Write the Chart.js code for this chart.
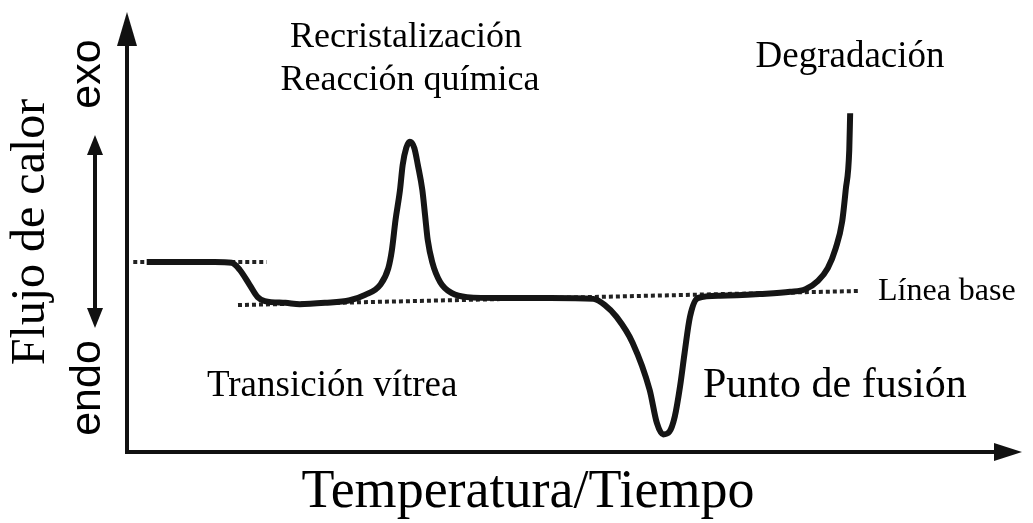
<!DOCTYPE html>
<html>
<head>
<meta charset="utf-8">
<script src="https://cdn.jsdelivr.net/npm/chart.js@4"></script>
<style>
  html, body { margin: 0; padding: 0; background: #fff; }
  canvas { display: block; }
</style>
</head>
<body>
<canvas id="dsc" width="1033" height="523"></canvas>
<script>
// Curva DSC esquemática (unidades arbitrarias)
var temperatura = [2.2, 5.9, 9.8, 11.7, 12.6, 13.7, 14.6, 15.4, 17.7, 19.3, 22.1, 24.9,
    26.6, 28.3, 29.2, 29.6, 30.0, 30.5, 30.8, 31.2, 31.6, 32.1, 32.5, 33.0, 33.3, 33.6, 34.1,
    35.0, 36.3, 38.0, 41.7, 47.3, 52.1, 53.4, 54.7, 56.5, 58.4, 59.2, 59.9, 60.6, 61.2, 61.8, 62.3,
    62.9, 63.8, 66.3, 70.7, 74.1, 75.8, 77.2, 78.3, 79.2, 79.9, 80.3, 80.7, 80.8];
var flujoCalor = [43.2, 43.2, 43.2, 43.0, 41.4, 38.0, 35.2, 34.3, 33.9, 33.6, 33.9, 34.5,
    35.7, 38.0, 41.8, 45.9, 52.7, 59.5, 65.2, 69.1, 70.5, 69.1, 65.2, 59.5, 53.9, 48.2, 43.2,
    38.6, 36.1, 35.2, 35.0, 35.0, 34.8, 33.4, 30.7, 24.8, 14.1, 6.6, 4.0, 4.6, 8.0, 15.0, 22.5,
    30.7, 35.0, 35.5, 35.9, 36.4, 37.0, 38.9, 41.8, 46.4, 52.3, 59.5, 68.6, 77.0];

// líneas base punteadas
var baseVitreaX = [0.7, 15.6];
var baseVitreaY = [43.2, 43.2];
var lineaBaseX = [12.4, 81.9];
var lineaBaseY = [33.4, 36.6];

function toPoints(xs, ys) {
    return xs.map(function (x, i) { return { x: x, y: ys[i] }; });
}

function arrowHead(ctx, tipX, tipY, dir, len, half) {
    // dir: 'up', 'down', 'right'
    ctx.beginPath();
    ctx.moveTo(tipX, tipY);
    if (dir === 'up') {
        ctx.lineTo(tipX - half, tipY + len);
        ctx.lineTo(tipX + half, tipY + len);
    } else if (dir === 'down') {
        ctx.lineTo(tipX - half, tipY - len);
        ctx.lineTo(tipX + half, tipY - len);
    } else {
        ctx.lineTo(tipX - len, tipY - half);
        ctx.lineTo(tipX - len, tipY + half);
    }
    ctx.closePath();
    ctx.fill();
}

function rotText(ctx, txt, x, y) {
    ctx.save();
    ctx.translate(x, y);
    ctx.rotate(-Math.PI / 2);
    ctx.fillText(txt, 0, 0);
    ctx.restore();
}

var schemePlugin = {
    id: 'scheme',
    afterDraw: function (chart) {
        var ctx = chart.ctx;
        var xs = chart.scales.x, ys = chart.scales.y;
        var x0 = xs.getPixelForValue(xs.min), x1 = xs.getPixelForValue(xs.max);
        var y0 = ys.getPixelForValue(ys.min), y1 = ys.getPixelForValue(ys.max);
        ctx.save();
        ctx.strokeStyle = '#111';
        ctx.fillStyle = '#111';
        ctx.lineWidth = 4;
        ctx.lineCap = 'butt';

        // ejes
        ctx.beginPath();
        ctx.moveTo(x0, y0 + 2);
        ctx.lineTo(x0, y1 + 20);
        ctx.moveTo(x0 - 2, y0);
        ctx.lineTo(x1 - 20, y0);
        ctx.stroke();
        arrowHead(ctx, x0, y1, 'up', 34, 10);
        arrowHead(ctx, x1, y0, 'right', 28, 9);

        // flecha exo / endo
        ctx.beginPath();
        ctx.moveTo(95, 150);
        ctx.lineTo(95, 312);
        ctx.stroke();
        arrowHead(ctx, 95, 135, 'up', 20, 8);
        arrowHead(ctx, 95, 328, 'down', 20, 8);

        // textos
        ctx.fillStyle = '#000';
        ctx.textBaseline = 'alphabetic';
        ctx.textAlign = 'center';
        ctx.font = '36px "Liberation Serif", serif';
        ctx.fillText('Recristalización', 406, 47);
        ctx.fillText('Reacción química', 410, 90);
        ctx.font = '37px "Liberation Serif", serif';
        ctx.fillText('Degradación', 850, 67);
        ctx.font = '54px "Liberation Serif", serif';
        ctx.fillText('Temperatura/Tiempo', 528, 507);
        ctx.font = '48px "Liberation Serif", serif';
        rotText(ctx, 'Flujo de calor', 44, 232);

        ctx.textAlign = 'left';
        ctx.font = '37px "Liberation Serif", serif';
        ctx.fillText('Transición vítrea', 207, 396);
        ctx.font = '42px "Liberation Serif", serif';
        ctx.fillText('Punto de fusión', 703, 397);
        ctx.font = '32px "Liberation Serif", serif';
        ctx.fillText('Línea base', 878, 300);

        ctx.textAlign = 'center';
        ctx.font = '43px "Liberation Sans", sans-serif';
        rotText(ctx, 'exo', 100, 74);
        rotText(ctx, 'endo', 100, 388);
        ctx.restore();
    }
};

var ctx = document.getElementById('dsc').getContext('2d');
var chart = new Chart(ctx, {
    type: 'line',
    data: {
        datasets: [{
            label: 'Flujo de calor',
            data: toPoints(temperatura, flujoCalor),
            borderColor: '#151515',
            borderWidth: 6,
            pointRadius: 0,
            cubicInterpolationMode: 'monotone',
            fill: false,
            order: 0
        }, {
            label: 'Transición vítrea',
            data: toPoints(baseVitreaX, baseVitreaY),
            borderColor: '#222',
            borderWidth: 4,
            borderDash: [4, 3],
            pointRadius: 0,
            fill: false,
            order: 1
        }, {
            label: 'Línea base',
            data: toPoints(lineaBaseX, lineaBaseY),
            borderColor: '#222',
            borderWidth: 4,
            borderDash: [4, 3],
            pointRadius: 0,
            fill: false,
            order: 1
        }]
    },
    options: {
        responsive: false,
        maintainAspectRatio: false,
        animation: false,
        layout: { padding: { left: 127, right: 11, top: 12, bottom: 71 } },
        plugins: { legend: { display: false }, tooltip: { enabled: false } },
        scales: {
            x: { type: 'linear', min: 0, max: 100, display: false },
            y: { type: 'linear', min: 0, max: 100, display: false }
        }
    },
    plugins: [schemePlugin]
});
</script>
</body>
</html>
